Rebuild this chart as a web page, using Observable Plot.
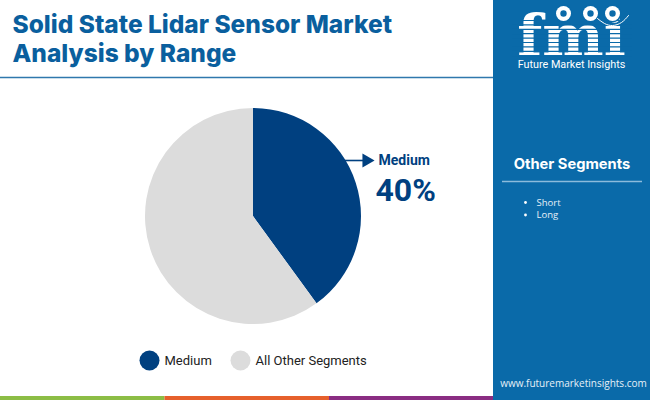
<!DOCTYPE html>
<html>
<head>
<meta charset="utf-8">
<script src="https://cdn.jsdelivr.net/npm/d3@7"></script>
<script src="https://cdn.jsdelivr.net/npm/@observablehq/plot@0.6"></script>
<style>
html,body{margin:0;padding:0;background:#fff}
svg{display:block}
</style>
</head>
<body>
<div id="chart"></div>
<script>
const titleLines = ["Solid State Lidar Sensor Market", "Analysis by Range"];
const segments = ["Medium", "All Other Segments"];
const shares = [40, 60];
const sliceColors = ["#004080", "#dcdcdc"];
const otherSegments = ["Short", "Long"];
const calloutLabel = "Medium";
const calloutValue = "40%";
const sidebarTitle = "Other Segments";
const website = "www.futuremarketinsights.com";
const brand = "Future Market Insights";
const footerColors = ["#8cbd45", "#e6602c", "#8a2d82"];
const panelBlue = "#0a6aa9";

const pieSlices = d3.pie().sort(null)(shares);

function pieMark(index, scales) {
  const g = d3.create("svg:g").attr("transform", `translate(${scales.x(253)},${scales.y(216)})`);
  const arc = d3.arc().innerRadius(0).outerRadius(108);
  g.selectAll("path").data(pieSlices).join("path")
    .attr("d", arc)
    .attr("fill", (d, i) => sliceColors[i]);
  return g.node();
}

const stripeRows = d3.range(20, 56, 4.4);
const legendRows = segments.map((s, i) => ({s, c: sliceColors[i], x: [149, 240][i]}));
const footer = footerColors.map((c, i) => ({c, x1: i * 164.5, x2: (i + 1) * 164.5}));
const rows = otherSegments.map((s, i) => ({s, y: 202 + i * 12.5}));
const globes = [563, 590, 612];
const smile = [[597, 18], [604, 23], [612, 25], [621, 22], [628, 15]];

const chart = Plot.plot({
  width: 650, height: 400,
  margin: 0,
  style: {background: "#fff"},
  x: {domain: [0, 650], range: [0, 650], axis: null},
  y: {domain: [0, 400], range: [0, 400], axis: null},
  marks: [
    Plot.rect(footer, {x1: "x1", x2: "x2", y1: 396, y2: 400, fill: "c"}),
    Plot.rect([0], {x1: 493, x2: 650, y1: 0, y2: 400, fill: panelBlue}),
    Plot.ruleY([77], {x1: 0, x2: 493, stroke: "#2f78ad", strokeWidth: 1.5}),
    Plot.text(titleLines, {
      x: 12, y: (d, i) => 25 + i * 28.5, text: d => d, textAnchor: "start",
      fontFamily: "Inter, 'Open Sans', sans-serif", fontWeight: 800, fontSize: 24.5, fill: "#0a5f9e"
    }),
    pieMark,
    Plot.ruleY([160], {x1: 345, x2: 364, stroke: "#004080", strokeWidth: 1.6}),
    Plot.dot([0], {x: 366, y: 160, symbol: "triangle", r: 5.2, fill: "#004080", rotate: 90}),
    Plot.text([calloutLabel], {x: 378, y: 160, text: d => d, textAnchor: "start", fontFamily: "Roboto", fontWeight: 700, fontSize: 14, fill: "#004080"}),
    Plot.text([calloutValue], {x: 375, y: 190, text: d => d, textAnchor: "start", fontFamily: "Roboto", fontWeight: 700, fontSize: 32, fill: "#004080"}),
    Plot.dot(legendRows, {x: "x", y: 360, r: 10, fill: "c"}),
    Plot.text(legendRows, {x: d => d.x + 15, y: 360.5, text: "s", textAnchor: "start", fontFamily: "Roboto", fontSize: 13, fill: "#222"}),
    Plot.text(["fmi"], {x: 571, y: 36.5, text: d => d, fontFamily: "'DejaVu Serif'", fontWeight: 700, fontSize: 58, fill: "#fff"}),
    Plot.ruleY(stripeRows, {x1: 512, x2: 632, stroke: panelBlue, strokeWidth: 1.2}),
    Plot.dot(globes, {x: d => d, y: 13, r: 9, fill: panelBlue}),
    Plot.dot(globes, {x: d => d, y: 13, r: 7.5, fill: "#fff"}),
    Plot.dot(globes, {x: d => d, y: 13, r: 3.2, fill: panelBlue}),
    Plot.line(smile, {x: d => d[0], y: d => d[1], curve: "natural", stroke: "#fff", strokeWidth: 1}),
    Plot.text([brand], {x: 571, y: 64, text: d => d, fontFamily: "Roboto", fontSize: 10.8, fill: "#fff"}),
    Plot.text([sidebarTitle], {x: 571.5, y: 164, text: d => d, fontFamily: "Inter, 'Open Sans', sans-serif", fontWeight: 700, fontSize: 14.7, fill: "#fff"}),
    Plot.ruleY([181], {x1: 502, x2: 642, stroke: "#8cbbdc", strokeWidth: 1.5}),
    Plot.dot(rows, {x: 525, y: "y", r: 1.4, fill: "#fff"}),
    Plot.text(rows, {x: 536, y: "y", text: "s", textAnchor: "start", fontFamily: "'Open Sans', sans-serif", fontSize: 9.5, fill: "#e6f0f8"}),
    Plot.text([website], {x: 573, y: 383, text: d => d, fontFamily: "'Open Sans', sans-serif", fontSize: 10, fill: "#e6f0f8"})
  ]
});
document.getElementById("chart").appendChild(chart);
</script>
</body>
</html>
